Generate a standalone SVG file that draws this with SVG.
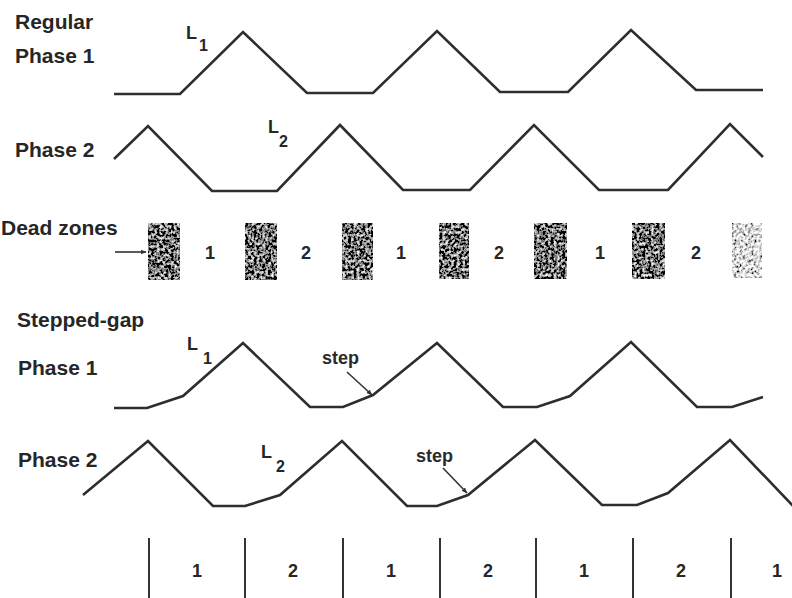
<svg xmlns="http://www.w3.org/2000/svg" width="792" height="598" viewBox="0 0 792 598">
<style>
.lbl{font-family:"Liberation Sans",Arial,sans-serif;font-weight:bold;font-size:21px;fill:#262626}
.num{font-family:"Liberation Sans",Arial,sans-serif;font-weight:bold;font-size:18px;fill:#262626;text-anchor:middle}
.L{font-family:"Liberation Sans",Arial,sans-serif;font-weight:bold;font-size:18px;fill:#262626}
.sub{font-family:"Liberation Sans",Arial,sans-serif;font-weight:bold;font-size:16px;fill:#262626}
.step{font-family:"Liberation Sans",Arial,sans-serif;font-weight:bold;font-size:18px;fill:#2a2a2a}
.wave{fill:none;stroke:#2e2e2e;stroke-width:2.6;stroke-linejoin:miter}
.ptr{fill:none;stroke:#333;stroke-width:1.6}
.div{stroke:#333;stroke-width:2}
.dz{fill:#000;filter:url(#speck)}
.dzl{fill:#000;filter:url(#speckLight)}
</style>
<defs>
<marker id="ah" viewBox="0 0 10 10" refX="9" refY="5" markerWidth="6" markerHeight="6" orient="auto" markerUnits="userSpaceOnUse">
<path d="M0,1 L10,5 L0,9 z" fill="#333"/>
</marker>
<filter id="speck" x="0" y="0" width="1" height="1">
<feTurbulence type="fractalNoise" baseFrequency="0.35" numOctaves="2" seed="4" result="n"/>
<feColorMatrix in="n" type="matrix" values="-2.5 0 0 0 1.45  -2.5 0 0 0 1.45  -2.5 0 0 0 1.45  0 0 0 0 1" result="g"/>
<feComposite in="g" in2="SourceGraphic" operator="in"/>
</filter>
<filter id="speckLight" x="0" y="0" width="1" height="1">
<feTurbulence type="fractalNoise" baseFrequency="0.35" numOctaves="2" seed="9" result="n"/>
<feColorMatrix in="n" type="matrix" values="-2.5 0 0 0 1.95  -2.5 0 0 0 1.95  -2.5 0 0 0 1.95  0 0 0 0 1" result="g"/>
<feComposite in="g" in2="SourceGraphic" operator="in"/>
</filter>
</defs>
<rect width="792" height="598" fill="#fff"/>

<g id="labels">
<text class="lbl" x="15" y="29">Regular</text>
<text class="lbl" x="15" y="63">Phase 1</text>
<text class="lbl" x="15" y="157">Phase 2</text>
<text class="lbl" x="1" y="235">Dead zones</text>
<text class="lbl" x="17" y="327">Stepped-gap</text>
<text class="lbl" x="18" y="375">Phase 1</text>
<text class="lbl" x="18" y="467">Phase 2</text>
</g>

<g id="regular-phase1">
<polyline class="wave" points="114,94 180,94 243,32 307,93 373,93 437,31 500,92 568,92 631,30 696,90 763,90"/>
<text class="L" x="186" y="39">L</text><text class="sub" x="199" y="51">1</text>
</g>

<g id="regular-phase2">
<polyline class="wave" points="114,159 148,126 212,191 277,191 340,125 403,190 470,190 534,125 599,190 668,190 730,124 763,157"/>
<text class="L" x="268" y="133">L</text><text class="sub" x="279" y="147">2</text>
</g>

<g id="dead-zones">
<rect class="dz" x="148" y="223" width="32" height="57"/>
<rect class="dz" x="245" y="223" width="32" height="57"/>
<rect class="dz" x="342" y="223" width="31" height="57"/>
<rect class="dz" x="439" y="223" width="30" height="56"/>
<rect class="dz" x="534" y="223" width="33" height="56"/>
<rect class="dz" x="632" y="223" width="33" height="56"/>
<rect class="dzl" x="732" y="223" width="30" height="55"/>
<text class="num" x="210" y="259">1</text>
<text class="num" x="306" y="259">2</text>
<text class="num" x="401" y="259">1</text>
<text class="num" x="499" y="259">2</text>
<text class="num" x="600" y="259">1</text>
<text class="num" x="696" y="259">2</text>
</g>

<g id="stepped-phase1">
<polyline class="wave" points="114,408 147,408 183,396 243,343 310,407 343,407 373,395 437,343 503,407 537,407 570,396 631,342 697,407 732,407 763,397"/>
<text class="L" x="187" y="350">L</text><text class="sub" x="203" y="364">1</text>
<text class="step" x="322" y="364">step</text>
</g>

<g id="stepped-phase2">
<polyline class="wave" points="83,495 148,441 213,506 245,506 280,495 342,441 407,506 437,506 468,495 535,440 602,505 637,505 668,493 730,440 795,508"/>
<text class="L" x="261" y="458">L</text><text class="sub" x="276" y="472">2</text>
<text class="step" x="416" y="462">step</text>
</g>

<g id="connectors">
<line class="ptr" x1="115" y1="252" x2="146" y2="252" marker-end="url(#ah)"/>
<line class="ptr" x1="347" y1="372" x2="372" y2="395" marker-end="url(#ah)"/>
<line class="ptr" x1="443" y1="468" x2="467" y2="493" marker-end="url(#ah)"/>
</g>

<g id="phase-scale">
<line class="div" x1="149" y1="538" x2="149" y2="598"/>
<line class="div" x1="245" y1="538" x2="245" y2="598"/>
<line class="div" x1="343" y1="538" x2="343" y2="598"/>
<line class="div" x1="440" y1="538" x2="440" y2="598"/>
<line class="div" x1="536" y1="538" x2="536" y2="598"/>
<line class="div" x1="633" y1="538" x2="633" y2="598"/>
<line class="div" x1="731" y1="538" x2="731" y2="598"/>
<text class="num" x="197" y="577">1</text>
<text class="num" x="293" y="577">2</text>
<text class="num" x="391" y="577">1</text>
<text class="num" x="488" y="577">2</text>
<text class="num" x="584" y="577">1</text>
<text class="num" x="681" y="577">2</text>
<text class="num" x="777" y="577">1</text>
</g>
</svg>
